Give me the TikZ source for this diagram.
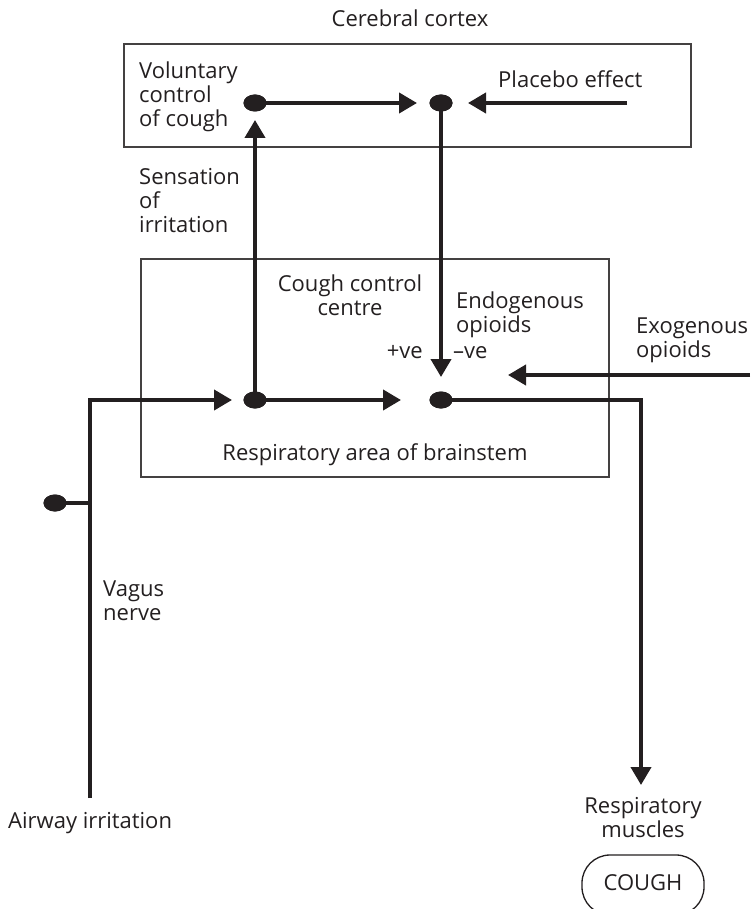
\documentclass[tikz,border=0pt]{standalone}
\usepackage{fontspec}
\setmainfont{Open Sans}
\usetikzlibrary{arrows.meta,shapes.geometric}
\definecolor{ink}{HTML}{231F20}
\newcommand\lblfont{\fontsize{22}{24}\selectfont}
\tikzset{
  lbl/.style={font=\lblfont, inner sep=0pt, align=left, text=ink},
  lblc/.style={font=\lblfont, inner sep=0pt, align=center, text=ink},
  frame/.style={draw=ink!85, line width=1.3pt},
  arr/.style={draw=ink, line width=4pt, -{Triangle[length=18pt,width=20pt]}},
  wire/.style={draw=ink, line width=4pt},
  dot/.style={ellipse, fill=ink, minimum width=23pt, minimum height=17pt, inner sep=0pt},
}
\begin{document}
\begin{tikzpicture}[x=1pt,y=-1pt]
\useasboundingbox (0,0) rectangle (750,909);
% frames
\draw[frame] (124,44) rectangle (691,147);
\draw[frame] (141,259) rectangle (609,477);
% labels (multi-line nodes: base = baseline of the last line)
\node[lblc, anchor=base] (cortex) at (410,27) {Cerebral cortex};
\node[lbl, anchor=base west] (vol) at (139,127) {Voluntary\\control\\of cough};
\node[lbl, anchor=base west] (placebo) at (498,88) {Placebo effect};
\node[lbl, anchor=base west] (sens) at (139,233) {Sensation\\of\\irritation};
\node[lblc, anchor=base] (ccc) at (350,315) {Cough control\\centre};
\node[lbl, anchor=base west] (endo) at (456,332) {Endogenous\\opioids};
\node[lbl, anchor=base east] (pos) at (423,358) {+ve};
\node[lbl, anchor=base west] (neg) at (453,358) {–ve};
\node[lbl, anchor=base west] (exo) at (636,357) {Exogenous\\opioids};
\node[lblc, anchor=base] (rab) at (375,460) {Respiratory area of brainstem};
\node[lbl, anchor=base west] (vagus) at (103,620) {Vagus\\nerve};
\node[lbl, anchor=base west] (airway) at (8,828) {Airway irritation};
\node[lblc, anchor=base] (muscles) at (643,837) {Respiratory\\muscles};
\draw[draw=ink, line width=1.3pt, rounded corners=28pt] (582,855) rectangle (704,915);
\node[lblc, anchor=base] (cough) at (643,890) {COUGH};
% coordinates
\coordinate (t1) at (417,103);
\coordinate (plS) at (627,103);
\coordinate (plT) at (468,103);
\coordinate (tdown) at (441,377);
\coordinate (tup) at (255,120);
\coordinate (exS) at (750,375);
\coordinate (exT) at (508,375);
\coordinate (t4) at (401,400);
\coordinate (vb) at (90,798);
\coordinate (tv) at (232,400);
\coordinate (vj) at (90,503);
\coordinate (tm) at (641,785);
% dots
\node[dot] (d1) at (255,103) {};
\node[dot] (d2) at (441,103) {};
\node[dot] (d4) at (255,400) {};
\node[dot] (d3) at (441,400) {};
\node[dot] (d5) at (55,503) {};
% connectors
\draw[arr] (d1.center) -- (t1);
\draw[arr] (plS) -- (plT);
\draw[arr] (d2.center) -- (tdown);
\draw[arr] (d4.center) -- (tup);
\draw[arr] (exS) -- (exT);
\draw[arr] (d4.center) -- (t4);
\draw[arr] (vb) |- (tv);
\draw[wire] (d5.center) -- (vj);
\draw[arr] (d3.center) -| (tm);
% dots on top of the lines
\foreach \n in {d1,d2,d3,d4,d5} \node[dot] at (\n) {};
\end{tikzpicture}
\end{document}
